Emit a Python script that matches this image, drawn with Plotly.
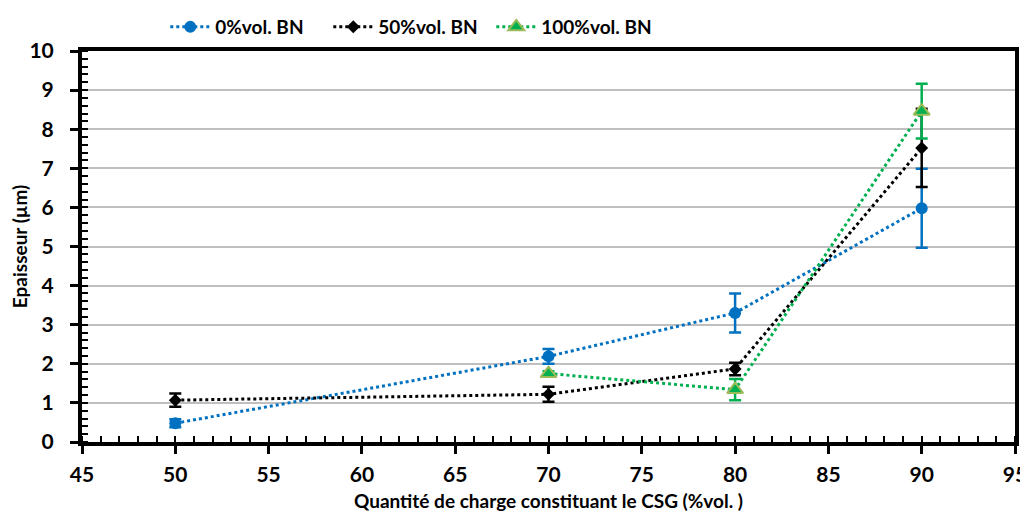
import plotly.graph_objects as go

x_0 = [50, 70, 80, 90]
y_0 = [0.48, 2.19, 3.30, 5.98]
e_0 = [0.10, 0.19, 0.50, 1.01]

x_50 = [50, 70, 80, 90]
y_50 = [1.07, 1.22, 1.87, 7.52]
e_50 = [0.17, 0.19, 0.16, 1.00]

x_100 = [70, 80, 90]
y_100 = [1.75, 1.34, 8.46]
e_100 = [0.06, 0.27, 0.70]

names = ["0%vol. BN", "50%vol. BN", "100%vol. BN"]

FONT = "Lato, Liberation Sans, Arial"

fig = go.Figure()
fig.add_trace(go.Scatter(
    x=x_0, y=y_0, name=names[0], mode="lines+markers",
    line=dict(color="#0070C0", width=3, dash="dot"),
    marker=dict(symbol="circle", size=12, color="#0070C0"),
    error_y=dict(type="data", array=e_0, color="#0070C0", thickness=2.5, width=6),
))
fig.add_trace(go.Scatter(
    x=x_50, y=y_50, name=names[1], mode="lines+markers",
    line=dict(color="#000000", width=3, dash="dot"),
    marker=dict(symbol="diamond", size=10, color="#000000"),
    error_y=dict(type="data", array=e_50, color="#000000", thickness=2.5, width=6),
))
fig.add_trace(go.Scatter(
    x=x_100, y=y_100, name=names[2], mode="lines+markers",
    line=dict(color="#00B050", width=3, dash="dot"),
    marker=dict(symbol="triangle-up", size=14, color="#00B050",
                line=dict(color="#9BBB59", width=2)),
    error_y=dict(type="data", array=e_100, color="#00B050", thickness=2.5, width=6),
))

fig.update_layout(
    width=1028, height=514,
    margin=dict(l=74, r=21, t=43, b=80, autoexpand=False),
    paper_bgcolor="white", plot_bgcolor="white",
    font=dict(family=FONT, size=18, color="black"),
    showlegend=True,
    legend=dict(orientation="h", x=0.153, xref="container", xanchor="left",
                y=0.963, yref="container", yanchor="middle",
                font=dict(family=FONT, size=19, color="black", weight="bold"),
                itemwidth=40, entrywidth=108, entrywidthmode="pixels",
                tracegroupgap=0),
)
fig.update_xaxes(
    range=[45, 95], dtick=5, tick0=45, automargin=False,
    showgrid=False, zeroline=False,
    showline=True, linecolor="black", linewidth=4, mirror=True,
    ticks="outside", ticklen=8, tickwidth=2.5, tickcolor="black",
    minor=dict(dtick=1, ticks="inside", ticklen=6, tickwidth=2, tickcolor="black"),
    tickfont=dict(family=FONT, size=21, color="black", weight="bold"),
    ticklabelstandoff=3,
    title=dict(text="Quantité de charge constituant le CSG (%vol. )",
               font=dict(family=FONT, size=19, color="black", weight="bold"),
               standoff=10),
)
fig.update_yaxes(
    range=[0, 10], dtick=1, automargin=False,
    showgrid=True, gridcolor="#BFBFBF", gridwidth=2, zeroline=False,
    showline=True, linecolor="black", linewidth=4, mirror=True,
    ticks="outside", ticklen=8, tickwidth=2.5, tickcolor="black",
    minor=dict(dtick=0.2, ticks="inside", ticklen=6, tickwidth=2, tickcolor="black", showgrid=False),
    tickfont=dict(family=FONT, size=21, color="black", weight="bold"),
    ticklabelstandoff=12,
    title=dict(text="Epaisseur (µm)",
               font=dict(family=FONT, size=19, color="black", weight="bold"),
               standoff=0),
)

fig.write_html("out.html")
